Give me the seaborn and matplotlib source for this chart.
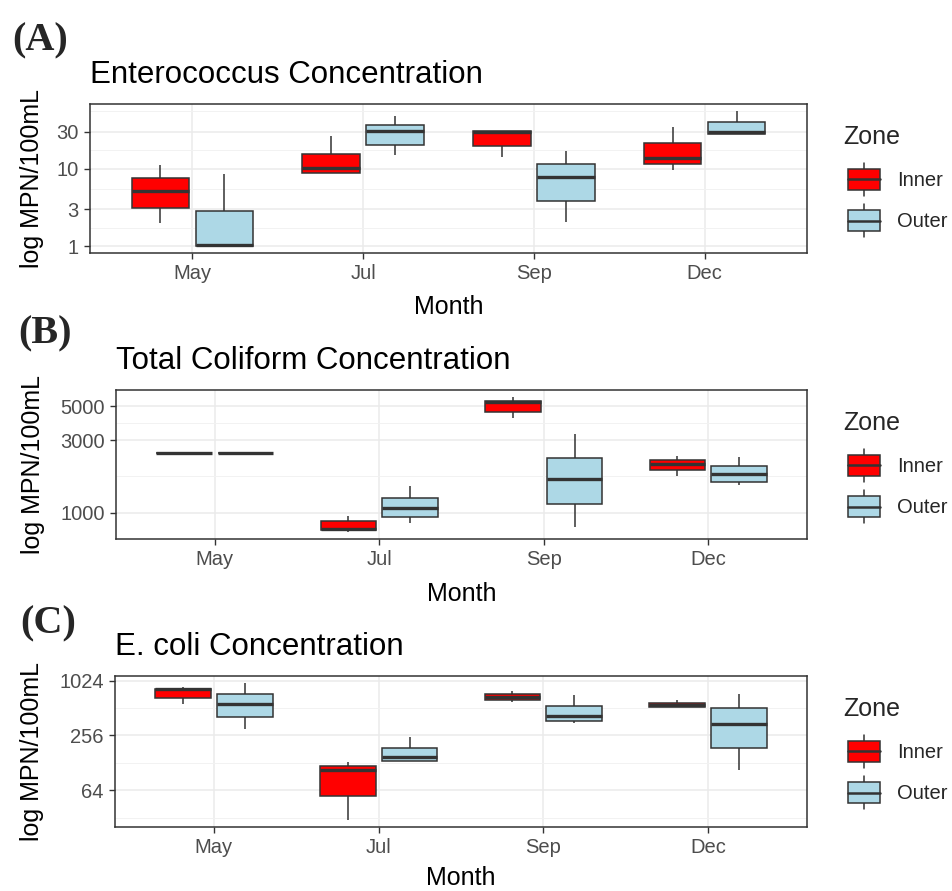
import numpy as np
import pandas as pd
import matplotlib
matplotlib.use("Agg")
import matplotlib.pyplot as plt
import seaborn as sns
from matplotlib.patches import Patch, Rectangle
from matplotlib.lines import Line2D
from matplotlib.legend_handler import HandlerBase
from matplotlib.ticker import NullFormatter

# ─────────────────────────────────────────────
# Monthly bacteria concentrations by zone (3 stacked box panels)
# ─────────────────────────────────────────────

MONTHS = ["May", "Jul", "Sep", "Dec"]
ZONES = ["Inner", "Outer"]

# five-number summaries per month: [min, q1, median, q3, max]
ENT_INNER = [[2.0, 3.1, 5.1, 7.5, 11.0],
             [8.8, 8.8, 10.2, 15.6, 26.7],
             [14.1, 19.3, 29.5, 30.5, 30.5],
             [9.7, 11.6, 13.9, 21.5, 34.8]]
ENT_OUTER = [[1.0, 1.0, 1.05, 2.86, 8.5],
             [14.8, 20.3, 30.3, 36.6, 48.1],
             [2.03, 3.83, 7.8, 11.6, 16.8],
             [28.1, 28.1, 29.4, 40.3, 55.7]]

TC_INNER = [[2450, 2450, 2450, 2450, 2450],
            [748, 775, 780, 883, 956],
            [4195, 4590, 5310, 5420, 5754],
            [1740, 1905, 2085, 2215, 2354]]
TC_OUTER = [[2450, 2450, 2450, 2450, 2450],
            [865, 941, 1085, 1262, 1496],
            [810, 1152, 1680, 2291, 3278],
            [1519, 1597, 1795, 2023, 2306]]

EC_INNER = [[572, 656, 820, 833, 878],
            [30.2, 55.9, 106, 118, 131],
            [601, 629, 679, 733, 778],
            [529, 529, 553, 578, 629]]
EC_OUTER = [[304, 406, 572, 727, 965],
            [136, 136, 149, 188, 249],
            [348, 366, 417, 535, 702],
            [106, 188, 345, 507, 733]]

ENT_TICKS = [1, 3, 10, 30]
ENT_MINOR = [1.73, 5.48, 17.3, 54.8]
TC_TICKS = [1000, 3000, 5000]
TC_MINOR = [1732, 3873]
EC_TICKS = [64, 256, 1024]
EC_MINOR = [32, 128, 512]

PALETTE = {"Inner": "#FF0000", "Outer": "#ADD8E6"}
EDGE = "#333333"
GRID = "#EBEBEB"

W, H = 953, 891


def long_table(inner, outer):
    rows = []
    for zone, summ in (("Inner", inner), ("Outer", outer)):
        for month, vals in zip(MONTHS, summ):
            for v in vals:
                rows.append((month, zone, v))
    return pd.DataFrame(rows, columns=["Month", "Zone", "MPN"])


class BoxKey(HandlerBase):
    # ggplot-like boxplot legend glyph
    def create_artists(self, legend, orig_handle, xdescent, ydescent, width, height, fontsize, trans):
        x0, y0 = -xdescent, -ydescent
        left = x0 + 0.13 * width
        w = width - 0.13 * width
        cx = left + w / 2
        fc = orig_handle.get_facecolor()
        box = Rectangle((left, y0 + 0.18 * height), w, 0.64 * height,
                        facecolor=fc, edgecolor=EDGE, lw=1.1, transform=trans)
        med = Line2D([left, left + w], [y0 + 0.5 * height] * 2, color=EDGE, lw=1.8, transform=trans)
        wu = Line2D([cx, cx], [y0 + 0.82 * height, y0 + height], color=EDGE, lw=1.1, transform=trans)
        wl = Line2D([cx, cx], [y0, y0 + 0.18 * height], color=EDGE, lw=1.1, transform=trans)
        return [wl, wu, box, med]


sns.set_theme(style="white")
plt.rcParams["font.family"] = ["Liberation Sans", "DejaVu Sans"]

fig = plt.figure(figsize=(W / 100, H / 100), dpi=100)


def draw_panel(letter, letter_xy, title, inner, outer, ticks, minor, box, ylab_x, xlab_y):
    left, top, right, bottom = box
    ax = fig.add_axes([left / W, 1 - bottom / H, (right - left) / W, (bottom - top) / H])
    df = long_table(inner, outer)

    sns.boxplot(data=df, x="Month", y="MPN", hue="Zone", order=MONTHS, hue_order=ZONES,
                palette=PALETTE, saturation=1, width=0.75, gap=0.1, whis=(0, 100),
                linecolor=EDGE, linewidth=1.1, log_scale=True, legend=False,
                medianprops={"linewidth": 2.4}, capprops={"visible": False}, ax=ax)

    # ggplot-style 5% expansion in log space
    lo, hi = np.log10(df["MPN"].min()), np.log10(df["MPN"].max())
    pad = 0.05 * (hi - lo)
    ax.set_ylim(10 ** (lo - pad), 10 ** (hi + pad))
    ax.set_xlim(-0.6, len(MONTHS) - 0.4)

    ax.set_yticks(ticks, labels=[str(t) for t in ticks])
    ax.set_yticks(minor, minor=True)
    ax.yaxis.set_minor_formatter(NullFormatter())

    ax.set_axisbelow(True)
    ax.grid(which="major", color=GRID, linewidth=1.1)
    ax.grid(which="minor", axis="y", color="#F2F2F2", linewidth=0.7)
    for sp in ax.spines.values():
        sp.set_visible(True)
        sp.set_color(EDGE)
        sp.set_linewidth(1.1)
    ax.tick_params(which="major", length=4, width=1.0, color=EDGE, labelsize=14.5,
                   labelcolor="#4D4D4D", pad=4, bottom=True, left=True)
    ax.tick_params(which="minor", length=0)

    ax.set_title(title, loc="left", pad=15, fontsize=22.5, color="black")
    ax.set_xlabel("Month", fontsize=18, color="black")
    ax.set_ylabel("log MPN/100mL", fontsize=18, color="black")
    ax.xaxis.set_label_coords(0.5, xlab_y)
    ax.yaxis.set_label_coords(ylab_x, 0.5)

    handles = [Patch(facecolor=PALETTE[z], edgecolor=EDGE, label=z) for z in ZONES]
    leg = ax.legend(handles=handles, title="Zone", loc="upper left",
                    bbox_to_anchor=(843 / W, 1 - (top + 21) / H), bbox_transform=fig.transFigure,
                    frameon=False, borderpad=0, borderaxespad=0, fontsize=14.5, title_fontsize=18,
                    alignment="left", handlelength=1.85, handleheight=2.15, handletextpad=0.85,
                    labelspacing=0.4, handler_map={Patch: BoxKey()})
    leg._legend_box.sep = 10  # a bit more room under the "Zone" title

    fig.text(letter_xy[0] / W, 1 - letter_xy[1] / H, letter, fontsize=29, fontweight="bold",
             family=["Liberation Serif", "DejaVu Serif"], va="baseline", ha="left")
    return ax


draw_panel("(A)", (12, 50), "Enterococcus Concentration", ENT_INNER, ENT_OUTER,
           ENT_TICKS, ENT_MINOR, (90, 104, 807, 253), -0.064, -0.282)
draw_panel("(B)", (18, 343), "Total Coliform Concentration", TC_INNER, TC_OUTER,
           TC_TICKS, TC_MINOR, (116, 390, 807, 539), -0.103, -0.289)
draw_panel("(C)", (20, 633), "E. coli Concentration", EC_INNER, EC_OUTER,
           EC_TICKS, EC_MINOR, (115, 676, 807, 827), -0.103, -0.258)

fig.savefig("out.png", dpi=100)
plt.close(fig)
